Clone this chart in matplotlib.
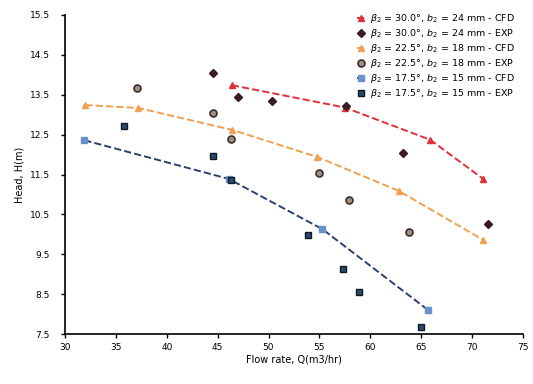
import matplotlib.pyplot as plt

# flow rate Q (m3/hr) and head H (m)
q_red_cfd = [46.4, 57.5, 65.9, 71.1]
h_red_cfd = [13.74, 13.18, 12.37, 11.39]
q_red_exp = [44.5, 47.0, 50.3, 57.6, 63.2, 71.6]
h_red_exp = [14.05, 13.44, 13.34, 13.22, 12.04, 10.26]

q_orange_cfd = [32.0, 37.2, 46.4, 54.8, 62.8, 71.1]
h_orange_cfd = [13.24, 13.17, 12.62, 11.94, 11.09, 9.86]
q_orange_exp = [37.1, 44.5, 46.3, 55.0, 57.9, 63.8]
h_orange_exp = [13.67, 13.04, 12.39, 11.54, 10.86, 10.06]

q_blue_cfd = [31.9, 46.1, 55.3, 65.7]
h_blue_cfd = [12.36, 11.39, 10.13, 8.10]
q_blue_exp = [35.8, 44.5, 46.3, 53.9, 57.3, 58.9, 65.0]
h_blue_exp = [12.72, 11.96, 11.36, 9.98, 9.13, 8.55, 7.68]

labels = [
    r'$\beta_2$ = 30.0°, $b_2$ = 24 mm - CFD',
    r'$\beta_2$ = 30.0°, $b_2$ = 24 mm - EXP',
    r'$\beta_2$ = 22.5°, $b_2$ = 18 mm - CFD',
    r'$\beta_2$ = 22.5°, $b_2$ = 18 mm - EXP',
    r'$\beta_2$ = 17.5°, $b_2$ = 15 mm - CFD',
    r'$\beta_2$ = 17.5°, $b_2$ = 15 mm - EXP',
]

fig = plt.figure(figsize=(5.33, 3.84), dpi=100)
ax = fig.add_axes([0.122, 0.13, 0.859, 0.831])

ax.plot(q_red_cfd, h_red_cfd, color='#e0303c', ls='--', lw=1.4, marker='^', ms=4,
        label=labels[0])
ax.plot(q_red_exp, h_red_exp, ls='none', marker='D', ms=4, color='#3a1a24',
        label=labels[1])
ax.plot(q_orange_cfd, h_orange_cfd, color='#f0a050', ls='--', lw=1.4, marker='^', ms=4,
        label=labels[2])
ax.plot(q_orange_exp, h_orange_exp, ls='none', marker='o', ms=5, mfc='#a09080',
        mec='#3a3030', mew=1.2, label=labels[3])
ax.plot(q_blue_cfd, h_blue_cfd, color='#2a4070', ls='--', lw=1.4, marker='s', ms=4,
        mfc='#6a90c8', mec='#6a90c8', label=labels[4])
ax.plot(q_blue_exp, h_blue_exp, ls='none', marker='s', ms=5, mfc='#2a4a70',
        mec='#101820', mew=1.0, label=labels[5])

ax.set_xlim(30, 75)
ax.set_ylim(7.5, 15.5)
ax.set_xticks(range(30, 76, 5))
ax.set_yticks([7.5, 8.5, 9.5, 10.5, 11.5, 12.5, 13.5, 14.5, 15.5])
ax.tick_params(labelsize=6.5, length=3, width=1)
ax.tick_params(axis='y', pad=8)
ax.spines['top'].set_visible(False)
ax.spines['right'].set_visible(False)
ax.spines['left'].set_linewidth(1.2)
ax.spines['bottom'].set_linewidth(1.2)
ax.set_xlabel('Flow rate, Q(m3/hr)', fontsize=7, labelpad=2)
ax.set_ylabel('Head, H(m)', fontsize=7, labelpad=4)

ax.legend(loc='upper left', bbox_to_anchor=(0.63, 1.02), frameon=False, fontsize=6.8,
          handlelength=0.8, handletextpad=0.5, labelspacing=0.2, borderaxespad=0)

fig.savefig('out.png', dpi=100)
